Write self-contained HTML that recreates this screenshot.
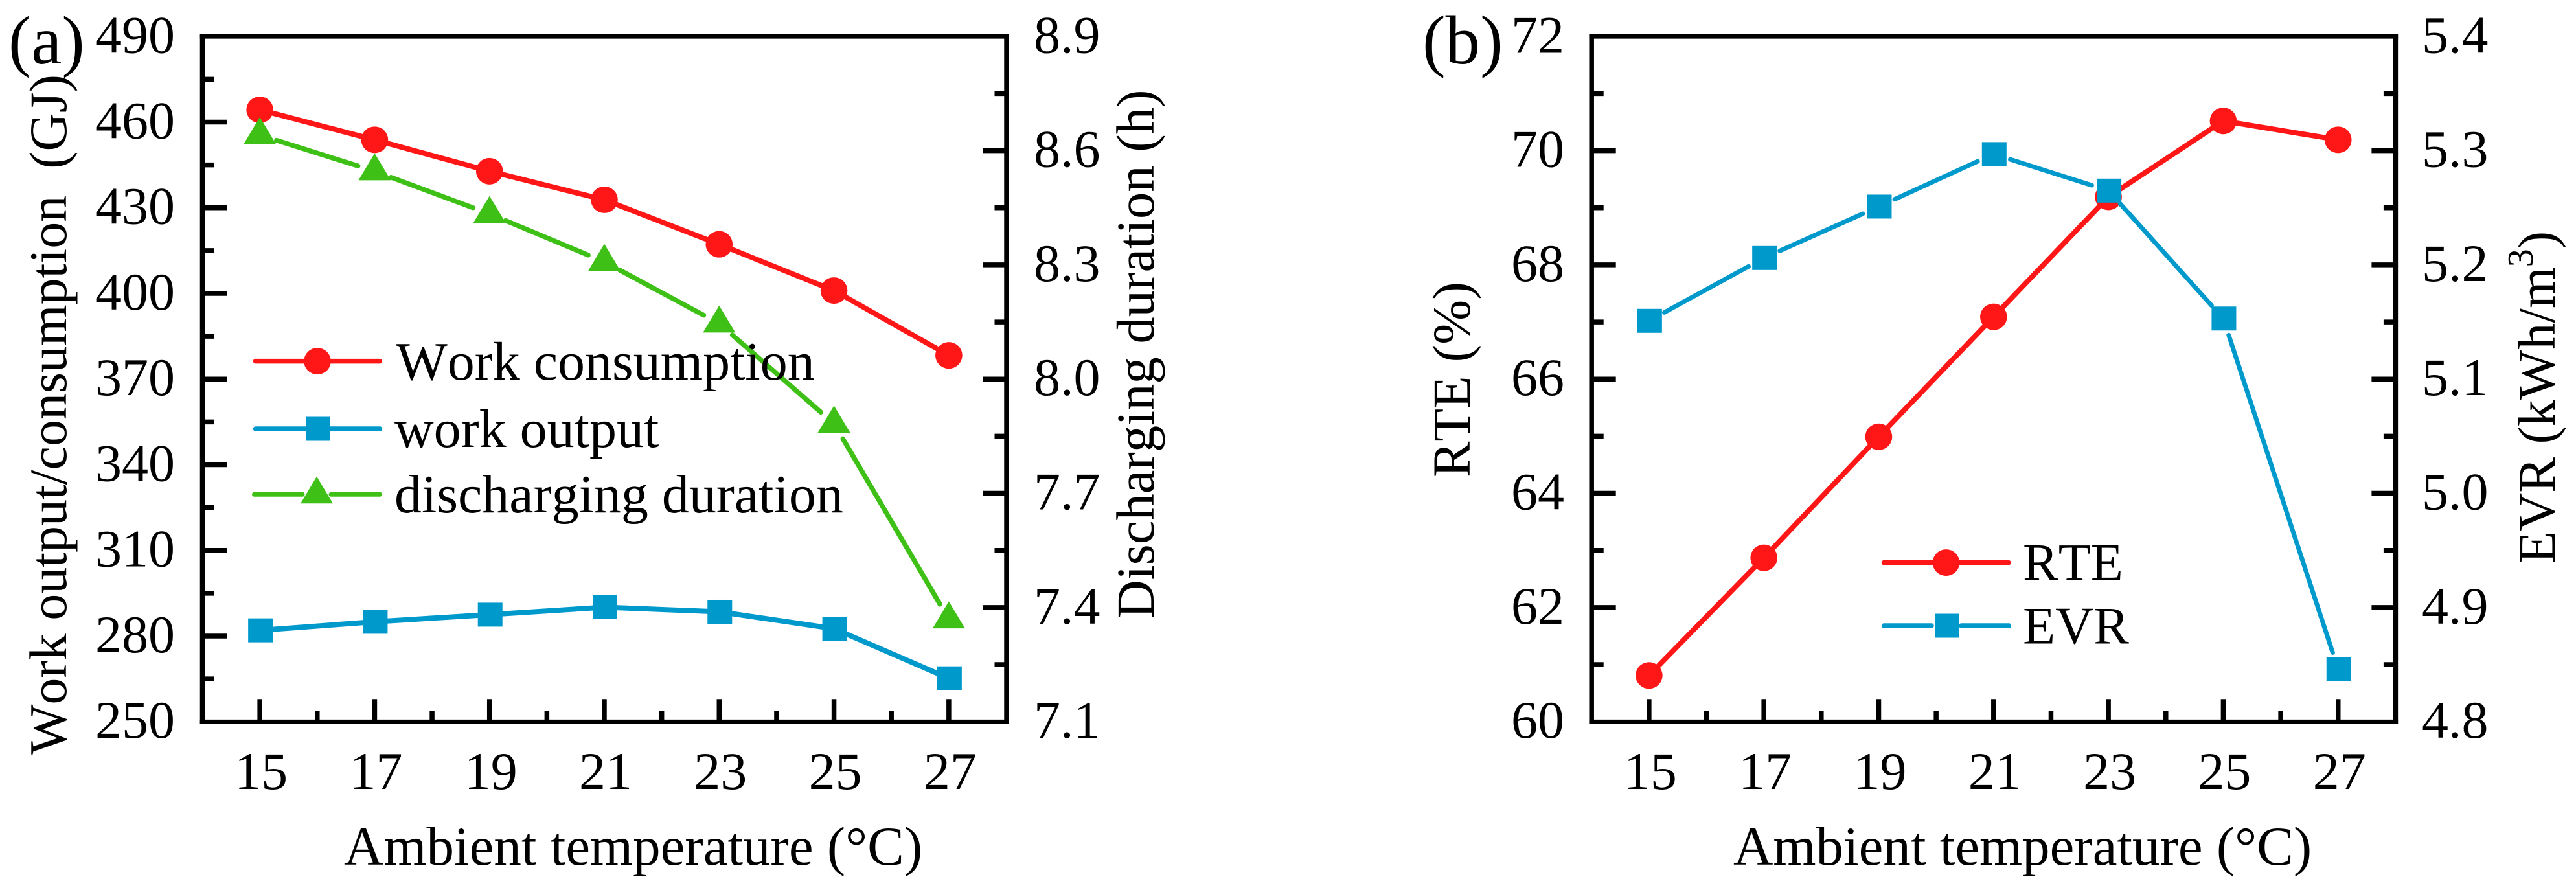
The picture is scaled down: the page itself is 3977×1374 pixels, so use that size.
<!DOCTYPE html>
<html lang="en">
<head>
<meta charset="utf-8">
<title>Ambient temperature effects</title>
<style>
html,body{margin:0;padding:0;background:#fff;}
svg{display:block;}
text{font-family:"Liberation Serif","Times New Roman",serif;fill:#000;font-kerning:none;}
</style>
</head>
<body>
<svg id="chart" xmlns="http://www.w3.org/2000/svg" width="3977" height="1374" viewBox="0 0 3977 1374">
  <rect x="0" y="0" width="3977" height="1374" fill="#ffffff"/>
  <g id="panel-a"></g>
  <g id="panel-b"></g>

  <text x="13" y="98" font-size="106">(a)</text>
  <text x="2196" y="98" font-size="107">(b)</text>

  <text x="531" y="1335" font-size="85">Ambient temperature (°C)</text>
  <text transform="translate(102 1165) rotate(-90)" font-size="82">Work output/consumption&#160;&#160;(GJ)</text>
  <text transform="translate(1781 955) rotate(-90)" font-size="82.6">Discharging duration (h)</text>

  <text x="2676" y="1335" font-size="85">Ambient temperature (°C)</text>
  <text transform="translate(2269 737) rotate(-90)" font-size="83">RTE (%)</text>
  <text transform="translate(3944 870) rotate(-90)" font-size="82">EVR (kWh/m<tspan dy="-34" font-size="56">3</tspan><tspan dy="34">)</tspan></text>

  <text x="611.5" y="586" font-size="84">Work consumption</text>
  <text x="609" y="690" font-size="84">work output</text>
  <text x="609" y="791" font-size="84">discharging duration</text>
  <text x="3123" y="895.5" font-size="82">RTE</text>
  <text x="3123" y="993.3" font-size="82">EVR</text>
</svg>
<script>
const temperatures = [15, 17, 19, 21, 23, 25, 27];
const xMinorTicks = [16, 18, 20, 22, 24, 26];

const workConsumption = [464.3, 453.8, 442.8, 432.8, 417.2, 401.0, 378.3];
const workOutput = [282.0, 285.0, 287.5, 290.1, 288.5, 282.6, 265.2];
const dischargingDuration = [8.641, 8.546, 8.434, 8.308, 8.146, 7.883, 7.369];
const rteValues = [60.81, 62.87, 64.99, 67.09, 69.19, 70.52, 70.19];
const evrValues = [5.151, 5.206, 5.251, 5.297, 5.265, 5.153, 4.846];

const workTicks = [250, 280, 310, 340, 370, 400, 430, 460, 490];
const durationTicks = [7.1, 7.4, 7.7, 8.0, 8.3, 8.6, 8.9];
const rteTicks = [60, 62, 64, 66, 68, 70, 72];
const evrTicks = [4.8, 4.9, 5.0, 5.1, 5.2, 5.3, 5.4];

const workTickLabels = ['250', '280', '310', '340', '370', '400', '430', '460', '490'];
const durationTickLabels = ['7.1', '7.4', '7.7', '8.0', '8.3', '8.6', '8.9'];
const rteTickLabels = ['60', '62', '64', '66', '68', '70', '72'];
const evrTickLabels = ['4.8', '4.9', '5.0', '5.1', '5.2', '5.3', '5.4'];

const RED = '#ff1717';
const BLUE = '#0099cc';
const GREEN = '#3ec016';
const NS = 'http://www.w3.org/2000/svg';
const TOP = 56.25;
const BOTTOM = 1114.2;

function make(tag, attrs, parent) {
  const el = document.createElementNS(NS, tag);
  for (const k in attrs) el.setAttribute(k, attrs[k]);
  parent.appendChild(el);
  return el;
}
function scale(d0, d1, r0, r1) {
  return function (v) { return r0 + (v - d0) * (r1 - r0) / (d1 - d0); };
}
function midpoints(ticks) {
  const out = [];
  for (let i = 0; i < ticks.length - 1; i++) out.push((ticks[i] + ticks[i + 1]) / 2);
  return out;
}
function bar(parent, x1, y1, x2, y2, w, name) {
  const el = make('line', { x1: x1, y1: y1, x2: x2, y2: y2, stroke: '#000', 'stroke-width': w }, parent);
  
  
  return el;
}
function label(parent, str, x, y, anchor, name) {
  const el = make('text', { x: x, y: y, 'text-anchor': anchor, 'font-size': 82 }, parent);
  el.textContent = str;
  
  
  return el;
}
function frame(parent, left, right, sx, leftScale, rightScale, leftTicks, rightTicks, leftLabels, rightLabels, leftLabelX, rightLabelX) {
  bar(parent, left, TOP - 3, left, BOTTOM + 3, 7.5, 'left-axis-line');
  bar(parent, right, TOP - 3, right, BOTTOM + 3, 7.5, 'right-axis-line');
  bar(parent, left - 3.75, TOP, right + 3.75, TOP, 6.7, 'top-axis-line');
  bar(parent, left - 3.75, BOTTOM, right + 3.75, BOTTOM, 6.7, 'x-axis-line');
  leftTicks.forEach(function (t, i) {
    const y = leftScale(t);
    if (i > 0 && i < leftTicks.length - 1) bar(parent, left, y, left + 37.5, y, 7.5, 'left-y-major-tick');
    label(parent, leftLabels[i], leftLabelX, y + 25, 'end', 'left-y-tick-label');
  });
  midpoints(leftTicks).forEach(function (t) {
    const y = leftScale(t);
    bar(parent, left, y, left + 18.5, y, 7.5, 'left-y-minor-tick');
  });
  rightTicks.forEach(function (t, i) {
    const y = rightScale(t);
    if (i > 0 && i < rightTicks.length - 1) bar(parent, right, y, right - 37, y, 7.5, 'right-y-major-tick');
    label(parent, rightLabels[i], rightLabelX, y + 25, 'start', 'right-y-tick-label');
  });
  midpoints(rightTicks).forEach(function (t) {
    const y = rightScale(t);
    bar(parent, right, y, right - 18.5, y, 7.5, 'right-y-minor-tick');
  });
  temperatures.forEach(function (t) {
    const x = sx(t);
    bar(parent, x, BOTTOM, x, BOTTOM - 35, 7.5, 'x-major-tick');
    label(parent, String(t), x + 2, 1218, 'middle', 'x-tick-label');
  });
  xMinorTicks.forEach(function (t) {
    const x = sx(t);
    bar(parent, x, BOTTOM, x, BOTTOM - 17, 7.5, 'x-minor-tick');
  });
}
function drawMarker(parent, kind, x, y, color, name) {
  let el;
  if (kind === 'circle') {
    el = make('ellipse', { cx: x, cy: y, rx: 20.8, ry: 20.5, fill: color }, parent);
  } else if (kind === 'square') {
    el = make('rect', { x: x - 18, y: y - 18.5, width: 38, height: 37, fill: color }, parent);
  } else {
    el = make('polygon', { points: (x - 25) + ',' + (y + 14) + ' ' + (x + 25) + ',' + (y + 14) + ' ' + x + ',' + (y - 27.7), fill: color }, parent);
  }
  
  
}
function drawSeries(parent, xs, ys, sx, sy, color, width, gap, kind, name) {
  const g = make('g', {}, parent);
  
  
  for (let i = 0; i < xs.length - 1; i++) {
    const x1 = sx(xs[i]), y1 = sy(ys[i]), x2 = sx(xs[i + 1]), y2 = sy(ys[i + 1]);
    const d = Math.hypot(x2 - x1, y2 - y1);
    const ux = (x2 - x1) / d, uy = (y2 - y1) / d;
    const seg = make('line', {
      x1: x1 + ux * gap, y1: y1 + uy * gap, x2: x2 - ux * gap, y2: y2 - uy * gap,
      stroke: color, 'stroke-width': width, 'stroke-linecap': 'round'
    }, g);
    
    
  }
  xs.forEach(function (v, i) {
    drawMarker(g, kind, sx(v), sy(ys[i]), color, name + '-marker');
  });
}
function legendKey(parent, x1, x2, cx, y, gap, color, width, kind, name) {
  const g = make('g', {}, parent);
  
  
  const opts = { stroke: color, 'stroke-width': width, 'stroke-linecap': 'round' };
  make('line', Object.assign({ x1: x1, y1: y, x2: cx - gap, y2: y }, opts), g);
  make('line', Object.assign({ x1: cx + gap, y1: y, x2: x2, y2: y }, opts), g);
  drawMarker(g, kind, cx, y, color, name + '-marker');
}

/* panel a */
const panelA = document.getElementById('panel-a');
const xA = scale(14, 28, 312.5, 1553.5);
const yWork = scale(250, 490, BOTTOM, TOP);
const yDuration = scale(7.1, 8.9, BOTTOM, TOP);
frame(panelA, 312.5, 1554, xA, yWork, yDuration, workTicks, durationTicks, workTickLabels, durationTickLabels, 270, 1596);
legendKey(panelA, 394.5, 586.5, 490, 557.6, 0, RED, 7.5, 'circle', 'legend-key-work-consumption');
legendKey(panelA, 394.5, 586.5, 490, 662, 0, BLUE, 7.5, 'square', 'legend-key-work-output');
legendKey(panelA, 392.5, 586.5, 489, 763.3, 22, GREEN, 7, 'triangle', 'legend-key-discharging-duration');
drawSeries(panelA, temperatures, workConsumption, xA, yWork, RED, 8, 0, 'circle', 'work-consumption');
drawSeries(panelA, temperatures, workOutput, xA, yWork, BLUE, 8, 0, 'square', 'work-output');
drawSeries(panelA, temperatures, dischargingDuration, xA, yDuration, GREEN, 7.5, 27, 'triangle', 'discharging-duration');

/* panel b */
const panelB = document.getElementById('panel-b');
const xB = scale(14, 28, 2457.2, 3698.4);
const yRte = scale(60, 72, BOTTOM, TOP);
const yEvr = scale(4.8, 5.4, BOTTOM, TOP);
frame(panelB, 2457.2, 3698.4, xB, yRte, yEvr, rteTicks, evrTicks, rteTickLabels, evrTickLabels, 2415, 3739);
legendKey(panelB, 2908.5, 3101, 3004.5, 868.6, 0, RED, 7.5, 'circle', 'legend-key-rte');
legendKey(panelB, 2908.5, 3101.5, 3005, 966, 23, BLUE, 7.5, 'square', 'legend-key-evr');
drawSeries(panelB, temperatures, rteValues, xB, yRte, RED, 8, 0, 'circle', 'rte');
drawSeries(panelB, temperatures, evrValues, xB, yEvr, BLUE, 7, 27, 'square', 'evr');
</script>
</body>
</html>
